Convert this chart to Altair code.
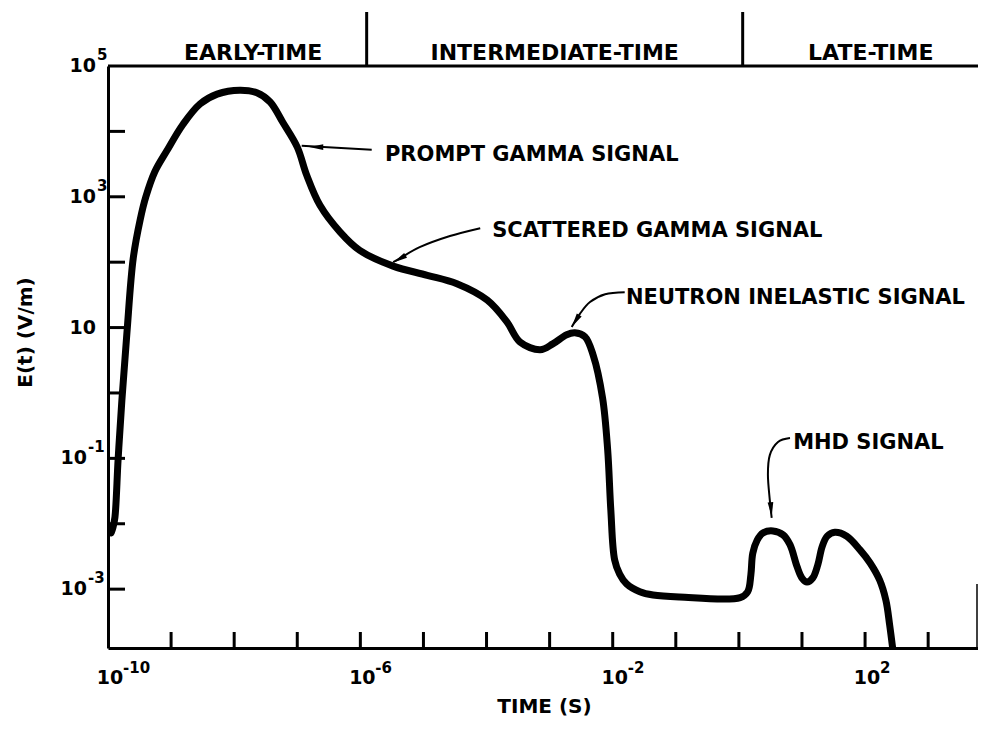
import altair as alt
import pandas as pd

# ---------------- data (log10 values) ----------------
curve_log_t = [-9.95, -9.92, -9.89, -9.84, -9.78, -9.70, -9.60, -9.49, -9.40, -9.26, -9.07,
               -8.81, -8.54, -8.27, -7.91, -7.64, -7.43, -7.23, -7.00, -6.85, -6.64,
               -6.32, -6.01, -5.48, -4.94, -4.47, -3.99, -3.68, -3.47, -3.15, -2.95,
               -2.73, -2.60, -2.44, -2.31, -2.16, -2.08, -2.03, -1.97, -1.89, -1.78,
               -1.57, -1.36, -0.94, 0.02, 0.14, 0.19, 0.22, 0.29, 0.38, 0.54,
               0.70, 0.81, 0.92, 1.00, 1.08, 1.17, 1.25, 1.32, 1.40, 1.52,
               1.71, 1.92, 2.08, 2.23, 2.33, 2.39, 2.46]
curve_log_e = [-2.14, -2.05, -1.90, -1.02, -0.11, 0.92, 2.06, 2.65, 3.00, 3.38, 3.70,
               4.11, 4.42, 4.57, 4.63, 4.59, 4.45, 4.14, 3.76, 3.33, 2.87,
               2.46, 2.18, 1.94, 1.80, 1.67, 1.42, 1.09, 0.78, 0.66, 0.75,
               0.89, 0.92, 0.86, 0.58, -0.08, -0.87, -1.79, -2.55, -2.77, -2.92,
               -3.04, -3.09, -3.12, -3.13, -3.04, -2.78, -2.45, -2.25, -2.14, -2.11,
               -2.17, -2.32, -2.65, -2.83, -2.89, -2.83, -2.63, -2.35, -2.19, -2.13,
               -2.19, -2.40, -2.60, -2.86, -3.17, -3.55, -4.08]

# annotation labels and their anchor (log10 t, log10 E)
note_text = ["PROMPT GAMMA SIGNAL", "SCATTERED GAMMA SIGNAL",
             "NEUTRON INELASTIC SIGNAL", "MHD SIGNAL"]
note_log_t = [-5.61, -3.91, -1.79, 0.86]
note_log_e = [3.64, 2.48, 1.45, -0.76]

# annotation arrows (shaft points)
arrow_id = ["p", "p", "s", "s", "s", "s", "s", "n", "n", "n", "n", "n",
            "m", "m", "m", "m", "m", "m"]
arrow_log_t = [-5.82, -6.93, -4.10, -4.58, -5.06, -5.37, -5.48,
               -1.81, -2.12, -2.36, -2.52, -2.65,
               0.81, 0.62, 0.49, 0.46, 0.49, 0.52]
arrow_log_e = [3.72, 3.78, 2.52, 2.40, 2.23, 2.06, 2.00,
               1.54, 1.51, 1.39, 1.21, 1.01,
               -0.69, -0.75, -0.95, -1.25, -1.64, -1.91]
# arrow heads
head_log_t = [-6.70, -5.38, -2.59, 0.51]
head_log_e = [3.76, 2.05, 1.10, -1.78]
head_angle = [270, 240, 212, 175]

# time-regime band on top
regime_text = ["EARLY-TIME", "INTERMEDIATE-TIME", "LATE-TIME"]
regime_log_t = [-7.70, -2.92, 2.09]
divider_log_t = [-5.90, 0.06]

# axis ticks and labels (10 with a raised exponent)
x_tick_exp = [-9, -8, -7, -6, -5, -4, -3, -2, -1, 0, 1, 2, 3]
y_tick_exp = [-3, -2, -1, 0, 1, 2, 3, 4]
x_label_exp = [-10, -6, -2, 2]
x_label_sup = ["-10", "-6", "-2", "2"]
y_label_exp = [5, 3, 1, -1, -3]
y_label_sup = ["5", "3", "", "-1", "-3"]

X_DOMAIN = [10 ** -10, 10 ** 3.79]
Y_DOMAIN = [10 ** -3.9, 10 ** 5]

W, H = 870, 582
FONT = "DejaVu Sans"

# ---------------- scales / axes ----------------
x_axis = alt.Axis(labels=False, ticks=False, grid=False, domain=True, domainWidth=3,
                  domainColor="black",
                  title="TIME (S)", titleFont=FONT, titleFontSize=20, titleFontWeight="bold",
                  titleColor="black", titleX=436, titleY=58, titleAlign="center",
                  titleBaseline="middle", titleAnchor="start")
y_axis = alt.Axis(labels=False, ticks=False, grid=False, domain=True, domainWidth=3,
                  domainColor="black",
                  title="E(t) (V/m)", titleFont=FONT, titleFontSize=20, titleFontWeight="bold",
                  titleColor="black", titleAngle=270, titleX=-83, titleY=266,
                  titleAlign="center", titleBaseline="middle", titleAnchor="start")

xs = alt.Scale(type="log", domain=X_DOMAIN, nice=False)
ys = alt.Scale(type="log", domain=Y_DOMAIN, nice=False)

def X(field="t"):
    return alt.X(f"{field}:Q", scale=xs, axis=x_axis)

def Y(field="e"):
    return alt.Y(f"{field}:Q", scale=ys, axis=y_axis)

# ---------------- tables ----------------
curve_df = pd.DataFrame({"t": [10 ** v for v in curve_log_t],
                         "e": [10 ** v for v in curve_log_e],
                         "i": list(range(len(curve_log_t)))})
note_df = pd.DataFrame({"t": [10 ** v for v in note_log_t],
                        "e": [10 ** v for v in note_log_e], "label": note_text})
arrow_df = pd.DataFrame({"t": [10 ** v for v in arrow_log_t],
                         "e": [10 ** v for v in arrow_log_e], "id": arrow_id,
                         "i": list(range(len(arrow_id)))})
head_df = pd.DataFrame({"t": [10 ** v for v in head_log_t],
                        "e": [10 ** v for v in head_log_e], "ang": head_angle})
regime_df = pd.DataFrame({"t": [10 ** v for v in regime_log_t], "label": regime_text})
divider_df = pd.DataFrame({"t": [10 ** v for v in divider_log_t]})
xtick_df = pd.DataFrame({"t": [10.0 ** v for v in x_tick_exp]})
ytick_df = pd.DataFrame({"e": [10.0 ** v for v in y_tick_exp]})
xlab_df = pd.DataFrame({"t": [10.0 ** v for v in x_label_exp], "sup": x_label_sup})
ylab_df = pd.DataFrame({"e": [10.0 ** v for v in y_label_exp], "sup": y_label_sup})
ylab_short = ylab_df[ylab_df["sup"].str.len() <= 1]
ylab_long = ylab_df[ylab_df["sup"].str.len() > 1]
one_df = pd.DataFrame({"k": [0]})

txt = dict(font=FONT, fontWeight="bold", color="black")

# ---------------- layers ----------------
curve = alt.Chart(curve_df).mark_line(
    color="black", strokeWidth=7, interpolate="catmull-rom", clip=True,
    strokeCap="round", strokeJoin="round"
).encode(x=X(), y=Y(), order="i:Q")

arrows = alt.Chart(arrow_df).mark_line(
    color="black", strokeWidth=2, interpolate="cardinal"
).encode(x=X(), y=Y(), detail="id:N", order="i:Q")

heads = alt.Chart(head_df).mark_point(
    shape="M0,-1L0.4,1L-0.4,1Z", filled=True, color="black", opacity=1, size=200
).encode(x=X(), y=Y(), angle=alt.Angle("ang:Q", scale=None))

notes = alt.Chart(note_df).mark_text(
    align="left", baseline="middle", fontSize=21, **txt
).encode(x=X(), y=Y(), text="label:N")

dividers = alt.Chart(divider_df).mark_rule(color="black", strokeWidth=3).encode(
    x=X(), y=alt.value(-54), y2=alt.value(0))

regimes = alt.Chart(regime_df).mark_text(
    align="center", baseline="middle", fontSize=22, **txt
).encode(x=X(), y=alt.value(-13), text="label:N")

top_line = alt.Chart(one_df).mark_rule(color="black", strokeWidth=3).encode(
    x=alt.value(0), x2=alt.value(W), y=alt.value(0))

right_stub = alt.Chart(one_df).mark_rule(color="black", strokeWidth=1.5).encode(
    x=alt.value(W - 1), y=alt.value(518), y2=alt.value(H))

xticks = alt.Chart(xtick_df).mark_rule(color="black", strokeWidth=3).encode(
    x=X(), y=alt.value(H), y2=alt.value(H - 16))

yticks = alt.Chart(ytick_df).mark_rule(color="black", strokeWidth=3).encode(
    y=Y(), x=alt.value(0), x2=alt.value(17))

# tick labels: "10" plus a raised exponent
xlab_base = alt.Chart(xlab_df).mark_text(
    align="center", baseline="middle", fontSize=19, dx=2, text="10", **txt
).encode(x=X(), y=alt.value(H + 30))
xlab_sup = alt.Chart(xlab_df).mark_text(
    align="left", baseline="middle", fontSize=15, dx=15, **txt
).encode(x=X(), y=alt.value(H + 20), text="sup:N")

ylab_base_s = alt.Chart(ylab_short).mark_text(
    align="right", baseline="middle", fontSize=19, text="10", **txt
).encode(y=Y(), x=alt.value(-12))
ylab_sup_s = alt.Chart(ylab_short).mark_text(
    align="left", baseline="middle", fontSize=15, dx=1, dy=-11, **txt
).encode(y=Y(), x=alt.value(-12), text="sup:N")
ylab_base_l = alt.Chart(ylab_long).mark_text(
    align="right", baseline="middle", fontSize=19, text="10", **txt
).encode(y=Y(), x=alt.value(-21))
ylab_sup_l = alt.Chart(ylab_long).mark_text(
    align="left", baseline="middle", fontSize=15, dx=1, dy=-11, **txt
).encode(y=Y(), x=alt.value(-21), text="sup:N")

chart = alt.layer(
    xticks, yticks, top_line, right_stub, dividers, regimes,
    xlab_base, xlab_sup, ylab_base_s, ylab_sup_s, ylab_base_l, ylab_sup_l,
    arrows, heads, notes, curve
).properties(
    width=W, height=H,
    padding={"left": 100, "top": 58, "right": 0, "bottom": 72},
    autosize=alt.AutoSizeParams(type="none"),
    background="white",
).configure_view(stroke=None)

chart.save("out.html", embed_options={"renderer": "svg", "actions": False})
